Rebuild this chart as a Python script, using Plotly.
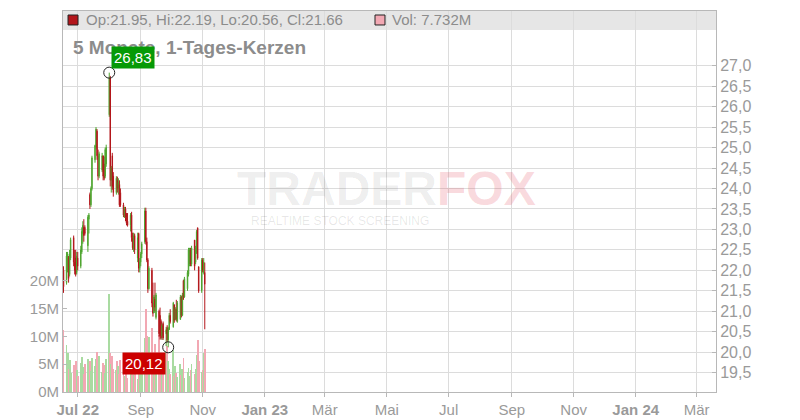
import plotly.graph_objects as go
import pandas as pd

# ---------------- data ----------------
dates = pd.bdate_range("2022-06-17", periods=100)

open_ = [22.00, 21.70, 22.30, 22.30, 21.90, 22.30, 22.80, 22.20, 22.30, 21.95,
         22.30, 22.10, 22.45, 22.90, 23.05, 23.05, 22.60, 23.25, 23.85, 23.60,
         24.00, 24.70, 25.00, 25.40, 24.80, 24.30, 24.45, 24.80, 24.60, 24.30,
         24.60, 25.80, 26.70, 24.20, 24.80, 24.30, 23.90, 24.20, 24.00, 24.10,
         23.90, 23.60, 23.30, 23.50, 23.30, 23.20, 23.10, 23.35, 22.80, 22.50,
         22.85, 22.30, 22.90, 22.05, 22.20, 22.40, 22.70, 23.45, 22.70, 22.26,
         21.55, 22.00, 21.20, 20.96, 21.30, 20.85, 21.00, 20.90, 20.75, 20.40,
         20.70, 20.45, 20.60, 20.30, 20.55, 20.90, 20.62, 21.16, 20.80, 21.05,
         20.75, 20.80, 21.35, 20.90, 21.75, 21.35, 21.55, 21.90, 22.15, 22.50,
         22.15, 22.74, 22.20, 22.43, 23.04, 22.09, 21.50, 22.25, 21.95, 21.95]
high = [22.10, 22.45, 22.45, 22.35, 22.50, 22.80, 22.85, 22.50, 22.50, 22.45,
        22.45, 22.60, 23.05, 23.20, 23.25, 23.10, 23.35, 23.40, 23.90, 24.05,
        24.80, 25.07, 25.50, 25.45, 24.95, 24.90, 24.87, 24.80, 24.78, 25.00,
        25.07, 26.83, 26.75, 24.55, 24.87, 24.40, 24.30, 24.29, 24.25, 24.20,
        24.00, 23.65, 23.55, 23.55, 23.40, 23.40, 23.40, 23.43, 22.92, 22.92,
        22.90, 22.92, 22.92, 22.30, 22.45, 22.70, 23.53, 23.53, 22.80, 22.30,
        22.10, 22.06, 21.70, 21.40, 21.70, 21.45, 21.04, 21.09, 20.80, 20.70,
        20.75, 20.62, 20.66, 20.62, 20.96, 21.05, 21.23, 21.16, 21.10, 21.28,
        21.25, 21.40, 21.38, 21.45, 21.77, 21.84, 22.00, 22.55, 22.55, 22.55,
        22.60, 22.74, 22.60, 22.99, 23.04, 22.09, 22.30, 22.30, 22.30, 22.19]
low = [21.45, 21.65, 21.95, 21.70, 21.85, 22.25, 22.10, 21.90, 21.85, 21.90,
       22.00, 22.05, 22.40, 22.65, 22.70, 22.85, 22.45, 22.90, 23.50, 23.55,
       23.95, 24.63, 24.95, 24.70, 24.20, 24.25, 24.40, 24.20, 24.20, 24.25,
       24.53, 25.75, 24.05, 23.90, 23.97, 23.80, 23.85, 23.90, 23.85, 23.55,
       23.55, 23.30, 23.28, 23.20, 23.10, 23.07, 22.95, 22.70, 22.50, 22.45,
       22.40, 22.20, 21.95, 21.95, 22.10, 22.30, 22.65, 22.63, 22.20, 21.45,
       21.53, 21.10, 20.87, 20.96, 21.00, 20.80, 20.38, 20.31, 20.31, 20.30,
       20.30, 20.15, 20.25, 20.12, 20.55, 20.70, 20.60, 20.72, 20.78, 20.75,
       20.72, 20.80, 20.85, 20.88, 21.28, 21.33, 21.50, 21.85, 22.10, 22.10,
       22.10, 22.00, 22.15, 22.40, 22.26, 21.45, 21.45, 21.95, 21.90, 20.56]
close = [21.60, 22.35, 22.40, 21.80, 22.40, 22.75, 22.20, 22.00, 21.90, 22.35,
         22.10, 22.50, 22.95, 23.10, 22.85, 22.90, 23.30, 23.35, 23.60, 24.00,
         24.75, 25.05, 25.45, 24.80, 24.30, 24.85, 24.80, 24.30, 24.25, 24.95,
         25.00, 26.70, 24.20, 24.50, 24.05, 23.90, 24.25, 24.00, 24.15, 23.60,
         23.60, 23.35, 23.50, 23.30, 23.15, 23.10, 23.35, 22.80, 22.55, 22.85,
         22.50, 22.80, 22.05, 22.20, 22.40, 22.65, 23.45, 22.70, 22.25, 21.55,
         22.05, 21.20, 20.95, 21.35, 21.10, 21.40, 20.45, 20.40, 20.35, 20.65,
         20.35, 20.55, 20.30, 20.58, 20.90, 20.75, 21.20, 20.78, 21.05, 20.80,
         21.20, 21.35, 20.90, 21.40, 21.35, 21.80, 21.95, 22.50, 22.50, 22.15,
         22.55, 22.10, 22.55, 22.95, 22.30, 21.50, 22.25, 22.00, 22.20, 21.66]
volume_m = [11.2, 8.5, 7.0, 4.2, 5.8, 3.5, 4.8, 3.0, 5.5, 4.0,
            2.8, 5.2, 6.3, 4.5, 3.2, 5.0, 6.0, 4.3, 5.6, 3.8,
            6.1, 4.6, 5.9, 7.2, 4.4, 6.5, 3.6, 5.3, 4.9, 3.4,
            6.0, 17.7, 7.0, 5.1, 6.4, 4.2, 3.9, 5.5, 4.7, 3.3,
            5.8, 4.0, 2.9, 3.6, 4.8, 2.6, 5.4, 3.1, 4.1, 3.0,
            5.7, 2.4, 3.8, 4.5, 3.2, 6.8, 9.8, 15.0, 10.0, 6.5,
            9.9, 11.5, 7.0, 5.5, 8.6, 4.8, 10.2, 6.0, 4.4, 6.9,
            3.7, 7.3, 8.2, 5.5, 4.1, 3.2, 7.5, 2.9, 4.6, 3.4,
            2.7, 5.1, 3.0, 4.2, 6.2, 2.5, 3.6, 4.4, 2.8, 3.9,
            5.0, 3.3, 4.1, 6.6, 9.3, 5.5, 3.6, 4.0, 7.0, 7.732]

x_tick_dates = ["2022-07-01", "2022-09-01", "2022-11-01", "2023-01-01", "2023-03-01",
                "2023-05-01", "2023-07-01", "2023-09-01", "2023-11-01", "2024-01-01",
                "2024-03-01"]
x_tick_labels = ["<b>Jul 22</b>", "Sep", "Nov", "<b>Jan 23</b>", "Mär", "Mai", "Jul",
                 "Sep", "Nov", "<b>Jan 24</b>", "Mär"]
price_ticks = [19.5, 20.0, 20.5, 21.0, 21.5, 22.0, 22.5, 23.0, 23.5, 24.0, 24.5, 25.0,
               25.5, 26.0, 26.5, 27.0]
vol_ticks_m = [0, 5, 10, 15, 20]

header_text = "Op:21.95, Hi:22.19, Lo:20.56, Cl:21.66"
vol_text = "Vol: 7.732M"
subtitle = "5 Monate, 1-Tages-Kerzen"

# ---------------- styling ----------------
INC = "#4ea52f"
DEC = "#b3161b"
VOL_UP = "#a9dba1"
VOL_DN = "#f2a8b3"
GRID = "#dcdcdc"
AXIS = "#b8b8b8"
TXT = "#9a9a9a"
FONT = "Liberation Sans, Arial, sans-serif"

vol_colors = [VOL_UP if c >= o else VOL_DN for o, c in zip(open_, close)]

fig = go.Figure()
fig.add_trace(go.Bar(
    x=dates, y=[v * 1e6 for v in volume_m], marker=dict(color=vol_colors, line=dict(width=0)),
    width=0.85 * 86400000, yaxis="y", hoverinfo="skip", showlegend=False))
fig.add_trace(go.Candlestick(
    x=dates, open=open_, high=high, low=low, close=close, yaxis="y2",
    increasing=dict(line=dict(color=INC, width=1), fillcolor=INC),
    decreasing=dict(line=dict(color=DEC, width=1), fillcolor=DEC),
    whiskerwidth=0, hoverinfo="skip", showlegend=False))

imax = high.index(max(high))
imin = low.index(min(low))
fig.add_trace(go.Scatter(
    x=[dates[imax], dates[imin]], y=[high[imax], low[imin]], yaxis="y2", mode="markers",
    marker=dict(symbol="circle-open", size=11, color="#222", line=dict(width=1)),
    hoverinfo="skip", showlegend=False))

fmt = lambda v: f"{v:.2f}".replace(".", ",")
annotations = [
    dict(x=0.496, y=0.535, xref="paper", yref="paper",
         text="<b><span style='color:rgba(0,0,0,0.08)'>TRADER</span>"
              "<span style='color:rgba(225,60,80,0.2)'>FOX</span></b>",
         showarrow=False, xanchor="center", yanchor="middle",
         font=dict(family=FONT, size=48)),
    dict(x=0.424, y=0.449, xref="paper", yref="paper", text="REALTIME STOCK SCREENING",
         showarrow=False, xanchor="center", yanchor="middle",
         font=dict(family=FONT, size=12, color="rgba(0,0,0,0.10)")),
    dict(x=0.0322, y=0.9764, xref="paper", yref="paper", text=header_text, showarrow=False,
         xanchor="left", yanchor="middle", font=dict(family=FONT, size=15, color="#8c8c8c")),
    dict(x=0.5008, y=0.9764, xref="paper", yref="paper", text=vol_text, showarrow=False,
         xanchor="left", yanchor="middle", font=dict(family=FONT, size=15, color="#8c8c8c")),
    dict(x=0.0125, y=0.9029, xref="paper", yref="paper", text="<b>" + subtitle + "</b>",
         showarrow=False, xanchor="left", yanchor="middle",
         font=dict(family=FONT, size=19, color="#8c8c8c")),
    dict(x=dates[imax], y=high[imax], xref="x", yref="y2", text=fmt(high[imax]),
         showarrow=False, xanchor="left", yanchor="bottom", xshift=2, yshift=4,
         bgcolor="#069a06", borderpad=2, font=dict(family=FONT, size=15, color="white")),
    dict(x=dates[imin], y=low[imin], xref="x", yref="y2", text=fmt(low[imin]),
         showarrow=False, xanchor="right", yanchor="top", xshift=-2, yshift=-5,
         bgcolor="#cc0000", borderpad=2, font=dict(family=FONT, size=15, color="white")),
]

shapes = [
    dict(type="rect", xref="paper", yref="paper", x0=0, x1=1, y0=0.9501, y1=1,
         fillcolor="#e6e6e6", line=dict(width=0), layer="below"),
    dict(type="rect", xref="paper", yref="paper", x0=0.0077, x1=0.0230, y0=0.9633, y1=0.9895,
         fillcolor="#b3161b", line=dict(color="#222", width=1), layer="above"),
    dict(type="rect", xref="paper", yref="paper", x0=0.4778, x1=0.4931, y0=0.9633, y1=0.9895,
         fillcolor="#f2a8b3", line=dict(color="#222", width=1), layer="above"),
]

# page body adds an 8px offset, margins compensate so the plot area sits at 63..716 x 11..392
fig.update_layout(
    width=800, height=420,
    margin=dict(l=55, r=92, t=3, b=36, autoexpand=False),
    paper_bgcolor="white", plot_bgcolor="white",
    font=dict(family=FONT, color=TXT),
    showlegend=False, bargap=0,
    annotations=annotations, shapes=shapes,
    xaxis=dict(
        type="date", range=["2022-06-16 12:00", "2024-03-20"],
        tickvals=x_tick_dates, ticktext=x_tick_labels, automargin=False,
        showgrid=True, gridcolor=GRID, gridwidth=1,
        showline=True, linecolor=AXIS, linewidth=1, mirror=True,
        ticks="outside", ticklen=4, tickcolor=AXIS,
        tickfont=dict(family=FONT, size=15, color=TXT),
        rangeslider=dict(visible=False), fixedrange=True),
    yaxis=dict(
        range=[0, 68.6e6], side="left", automargin=False,
        tickvals=[v * 1e6 for v in vol_ticks_m], ticktext=[f"{v}M" for v in vol_ticks_m],
        showgrid=False, zeroline=False,
        showline=True, linecolor=AXIS, linewidth=1,
        ticks="inside", ticklen=4, tickcolor=AXIS,
        tickfont=dict(family=FONT, size=15, color=TXT), fixedrange=True),
    yaxis2=dict(
        overlaying="y", side="right", range=[19.028, 28.336], automargin=False,
        tickvals=price_ticks, ticktext=[f"{v:.1f}".replace(".", ",") for v in price_ticks],
        showgrid=True, gridcolor=GRID, gridwidth=1, zeroline=False,
        showline=True, linecolor=AXIS, linewidth=1,
        ticks="inside", ticklen=4, tickcolor=AXIS,
        tickfont=dict(family=FONT, size=16, color=TXT), fixedrange=True),
)

fig.write_html("out.html")
